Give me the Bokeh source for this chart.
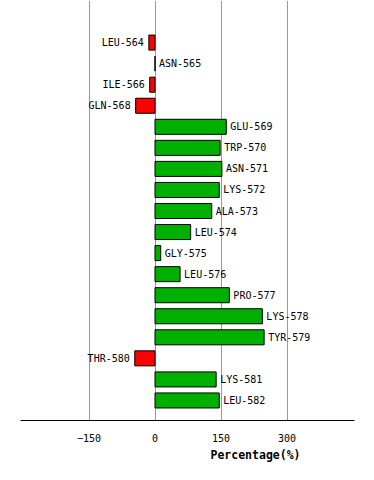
from bokeh.plotting import figure
from bokeh.models import Range1d, FixedTicker, ColumnDataSource, Title
from bokeh.core.properties import value
from bokeh.embed import file_html
from bokeh.resources import INLINE

residues = ["LEU-564", "ASN-565", "ILE-566", "GLN-568", "GLU-569", "TRP-570",
            "ASN-571", "LYS-572", "ALA-573", "LEU-574", "GLY-575", "LEU-576",
            "PRO-577", "LYS-578", "TYR-579", "THR-580", "LYS-581", "LEU-582"]
percent = [-14, 0, -12, -44, 162, 148, 152, 146, 129, 81, 13, 57, 169, 244, 248, -46, 139, 146]
ticks = [-150, 0, 150, 300]
axis_title = "Percentage(%)"

rows = list(range(len(residues)))
colors = ["#00b000" if v > 0 else ("#ff0000" if v < 0 else "#000000") for v in percent]
pos = [v >= 0 for v in percent]

src_bar = ColumnDataSource(dict(y=rows, right=percent, color=colors))
src_pos = ColumnDataSource(dict(
    y=[r for r, q in zip(rows, pos) if q],
    x=[v for v, q in zip(percent, pos) if q],
    t=[n for n, q in zip(residues, pos) if q]))
src_neg = ColumnDataSource(dict(
    y=[r for r, q in zip(rows, pos) if not q],
    x=[v for v, q in zip(percent, pos) if not q],
    t=[n for n, q in zip(residues, pos) if not q]))

p = figure(width=366, height=472, output_backend="svg", toolbar_location=None,
           x_range=Range1d(-305.7, 453.4), y_range=Range1d(17.952, -2.0),
           min_border_left=20, min_border_right=12, min_border_top=0,
           min_border_bottom=52)
p.outline_line_color = None
p.background_fill_color = "white"
p.yaxis.visible = False
p.ygrid.visible = False
p.xgrid.ticker = FixedTicker(ticks=ticks)
p.xgrid.grid_line_color = "#999999"
p.xgrid.grid_line_width = 1

xa = p.xaxis[0]
xa.ticker = FixedTicker(ticks=ticks)
xa.major_tick_line_color = None
xa.minor_tick_line_color = None
xa.major_tick_out = 0
xa.major_tick_in = 0
xa.axis_line_color = "black"
xa.axis_line_width = 1
xa.major_label_text_font = "DejaVu Sans Mono"
xa.major_label_text_font_size = "10px"
xa.major_label_text_color = "black"
xa.major_label_standoff = 13

p.hbar(y="y", left=0, right="right", height=0.714, source=src_bar,
       fill_color="color", line_color="black", line_width=1)

p.text(x="x", y="y", text="t", source=src_pos, x_offset=4,
       text_align="left", text_baseline="middle",
       text_font=value("DejaVu Sans Mono"), text_font_size="10px", text_color="black")
p.text(x="x", y="y", text="t", source=src_neg, x_offset=-5,
       text_align="right", text_baseline="middle",
       text_font=value("DejaVu Sans Mono"), text_font_size="10px", text_color="black")

p.add_layout(Title(text=axis_title, align="left", offset=190, standoff=2,
                   text_font="DejaVu Sans Mono", text_font_style="bold",
                   text_font_size="11.5px", text_color="black"), "below")

open("out.html", "w").write(file_html(p, INLINE))
